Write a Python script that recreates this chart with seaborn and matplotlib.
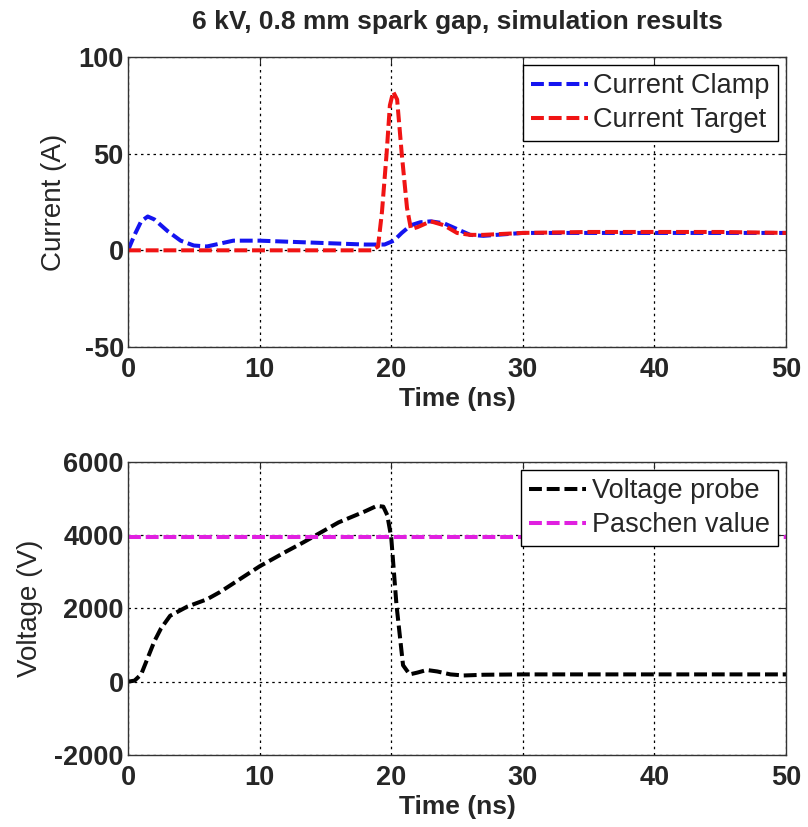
import numpy as np
import pandas as pd
import matplotlib
matplotlib.use("Agg")
import matplotlib.pyplot as plt
import seaborn as sns

# ---- data ----
t_clamp = [0, 0.5, 1.0, 1.5, 2.0, 3.0, 4.0, 5.0, 6.0, 7.0, 8.0, 10, 12, 14, 16, 18,
           19.5, 20.2, 20.8, 21.5, 22.2, 23.0, 24.0, 25.0, 26.0, 27.0, 28.0, 30, 35, 40, 45, 50]
i_clamp = [0, 8, 15, 17.5, 16, 10, 5, 2.5, 2, 3.5, 5, 5, 4.5, 4, 3.5, 3,
           3, 5, 9, 13, 14.5, 15, 14, 11, 8, 7.5, 8, 9, 9, 9, 9, 9]

t_target = [0, 5, 10, 15, 18.5, 19.0, 19.3, 19.65, 19.9, 20.15, 20.45, 20.8, 21.2, 21.5,
            22.0, 23.0, 24.0, 25.0, 26.0, 27, 30, 35, 40, 45, 50]
i_target = [0, 0, 0, 0, 0, 2, 20, 50, 75, 82, 78, 50, 22, 11,
            12, 15, 13, 9, 8, 8, 9, 9.5, 9.5, 9.5, 9]

t_volt = [0, 0.5, 1.0, 1.5, 2.0, 2.5, 3.2, 4.5, 6, 7, 8.5, 10, 12, 13.3, 16, 18, 18.9,
          19.4, 19.7, 20.0, 20.4, 20.9, 21.4, 22, 22.7, 23.5, 24.5, 25.5, 27, 30, 40, 50]
v_probe = [0, 30, 200, 650, 1100, 1450, 1800, 2050, 2250, 2450, 2800, 3150, 3550, 3800, 4350,
           4650, 4800, 4780, 4550, 3950, 2100, 450, 200, 250, 320, 280, 200, 170, 190, 200, 200, 200]

t_paschen = [0, 50]
v_paschen = [3950, 3950]

title = "6 kV, 0.8 mm spark gap, simulation results"

# ---- style ----
sns.set_style("white")
plt.rcParams["font.family"] = ["Liberation Sans", "DejaVu Sans"]
plt.rcParams["axes.unicode_minus"] = False

fig = plt.figure(figsize=(8.08, 8.27), dpi=100)
ax1 = fig.add_axes([0.1584, 0.5804, 0.8144, 0.3507])
ax2 = fig.add_axes([0.1584, 0.0871, 0.8144, 0.3543])

ls = (0, (3.2, 1.2))
lw = 2.9

df1 = pd.DataFrame({"t": t_clamp, "v": i_clamp})
df2 = pd.DataFrame({"t": t_target, "v": i_target})
sns.lineplot(data=df1, x="t", y="v", ax=ax1, color="#1414f0", lw=lw, linestyle=ls,
             label="Current Clamp")
sns.lineplot(data=df2, x="t", y="v", ax=ax1, color="#f01414", lw=lw, linestyle=ls,
             label="Current Target")

df3 = pd.DataFrame({"t": t_volt, "v": v_probe})
df4 = pd.DataFrame({"t": t_paschen, "v": v_paschen})
sns.lineplot(data=df3, x="t", y="v", ax=ax2, color="black", lw=lw, linestyle=ls,
             label="Voltage probe")
sns.lineplot(data=df4, x="t", y="v", ax=ax2, color="#e020e0", lw=lw, linestyle=ls,
             label="Paschen value")

tick_fs = 19.5
for ax, ylim, yticks, ylabel in [
    (ax1, (-50, 100), [-50, 0, 50, 100], "Current (A)"),
    (ax2, (-2000, 6000), [-2000, 0, 2000, 4000, 6000], "Voltage (V)"),
]:
    ax.set_xlim(0, 50)
    ax.set_ylim(*ylim)
    ax.set_xticks([0, 10, 20, 30, 40, 50])
    ax.set_yticks(yticks)
    ax.grid(True, color="black", linestyle=(0, (2, 3)), linewidth=0.9)
    ax.tick_params(direction="in", length=5, top=True, right=True, width=0.8,
                   labelsize=tick_fs)
    ax.tick_params(axis="x", pad=7)
    ax.tick_params(axis="y", pad=3)
    for lab in ax.get_xticklabels() + ax.get_yticklabels():
        lab.set_fontweight("bold")
    for sp in ax.spines.values():
        sp.set_color("#333333")
        sp.set_linewidth(1.0)
    ax.set_xlabel("Time (ns)", fontsize=19, fontweight="bold", labelpad=3)
    ax.set_ylabel(ylabel, fontsize=20, labelpad=8)
    leg = ax.legend(loc="upper right", fontsize=19.5, frameon=True, fancybox=False,
                    framealpha=1, edgecolor="black", handlelength=2.1,
                    handletextpad=0.2, borderpad=0.3, labelspacing=0.3,
                    borderaxespad=0.3)
    leg.get_frame().set_linewidth(1.0)

ax1.set_title(title, fontsize=19, fontweight="bold", pad=20)

fig.savefig("out.png", dpi=100)
